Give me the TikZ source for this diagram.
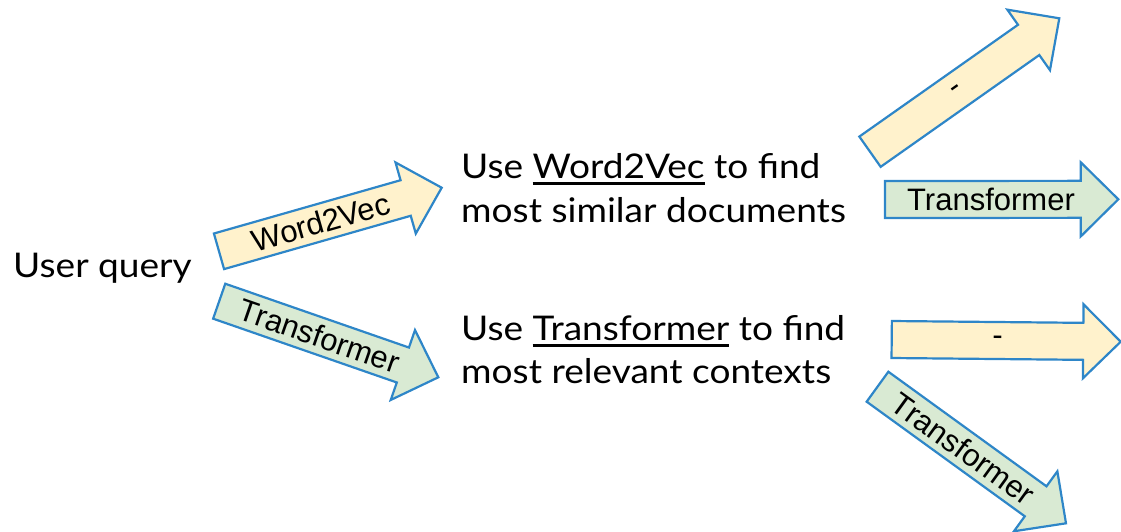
\documentclass[tikz,border=0pt]{standalone}
\usepackage{fontspec}
\setmainfont{Lato}
\newfontfamily\arialfont{Liberation Sans}
\usetikzlibrary{calc}
\definecolor{arrowblue}{RGB}{46,134,200}
\definecolor{yellowfill}{HTML}{FFF2CC}
\definecolor{greenfill}{HTML}{D9EAD3}
\newcommand\myul[1]{\setbox0\hbox{#1}\rlap{\rule[-6.5pt]{\wd0}{2.6pt}}\box0\relax}
\tikzset{
  blockarrow/.style={draw=arrowblue, line width=2.2pt, line join=miter},
  yellowarrow/.style={blockarrow, fill=yellowfill},
  greenarrow/.style={blockarrow, fill=greenfill},
  arrowlabel/.style={font=\arialfont\fontsize{31}{36}\selectfont, inner sep=0pt},
  maintext/.style={inner sep=0pt, anchor=base west, xscale=1.09},
}
% style, name, tail, tip, label
\newcommand\drawblockarrow[5]{%
  \coordinate (#2-tail) at #3;
  \coordinate (#2-tip) at #4;
  \coordinate (#2-hb) at ($(#2-tip)!37.5pt!(#2-tail)$);
  \draw[#1] ($(#2-tail)!18.5pt!90:(#2-tip)$)
    -- ($(#2-hb)!18.5pt!90:(#2-tip)$)
    -- ($(#2-hb)!37pt!90:(#2-tip)$)
    -- (#2-tip)
    -- ($(#2-hb)!37pt!-90:(#2-tip)$)
    -- ($(#2-hb)!18.5pt!-90:(#2-tip)$)
    -- ($(#2-tail)!18.5pt!-90:(#2-tip)$)
    -- cycle;
  \path let \p1=($(#2-tip)-(#2-tail)$), \n1={atan2(\y1,\x1)} in
    node[arrowlabel, rotate=\n1] (#2-label) at ($(#2-tail)!106pt!(#2-tip)$) {#5};
}
\begin{document}
\begin{tikzpicture}[x=1pt,y=-1pt]
\useasboundingbox (0,0) rectangle (1121,531);

\node[maintext, font=\fontsize{34}{44}\selectfont] (user) at (13,277.5) {User query};
\node[maintext, font=\fontsize{34}{44}\selectfont] (w2vtext) at (461,178)
  {\begin{tabular}[t]{@{}l@{}}Use \myul{Word2Vec} to find\\most similar documents\end{tabular}};
\node[maintext, font=\fontsize{34}{43}\selectfont] (trtext) at (461,340)
  {\begin{tabular}[t]{@{}l@{}}Use \myul{Transformer} to find\\most relevant contexts\end{tabular}};

\drawblockarrow{yellowarrow}{a1}{(219,251.3)}{(441.7,187.7)}{Word2Vec}
\drawblockarrow{greenarrow}{a2}{(219.2,301.2)}{(438.3,377.3)}{Transformer}
\drawblockarrow{yellowarrow}{a3}{(870,151.7)}{(1059.3,18.3)}{-}
\drawblockarrow{greenarrow}{a4}{(885,199.5)}{(1118.3,199.3)}{Transformer}
\drawblockarrow{yellowarrow}{a5}{(891.7,339.5)}{(1120.7,341.7)}{-}
\drawblockarrow{greenarrow}{a6}{(877.5,386.7)}{(1066,523.3)}{Transformer}
\end{tikzpicture}
\end{document}
